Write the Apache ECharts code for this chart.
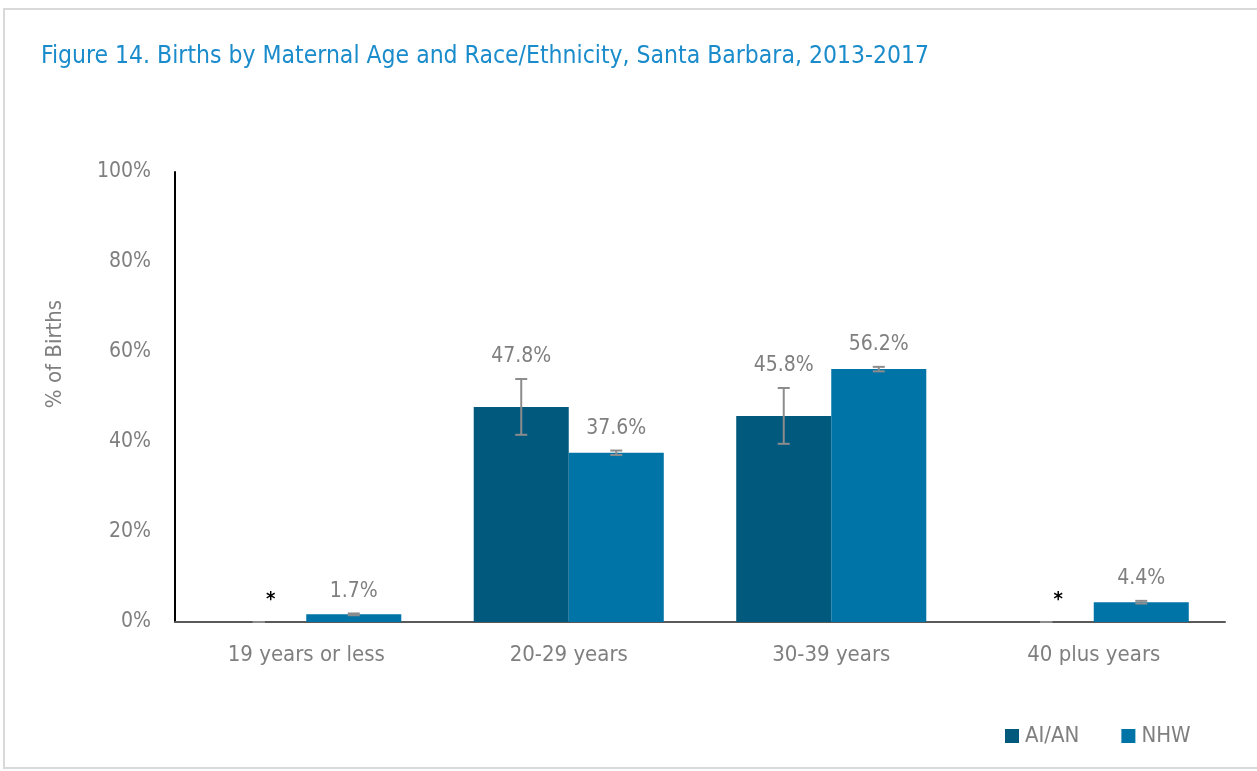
<!DOCTYPE html>
<html>
<head>
<meta charset="utf-8">
<script src="https://cdn.jsdelivr.net/npm/echarts@6/dist/echarts.min.js"></script>
<style>
  html, body { margin: 0; padding: 0; background: #fff; }
  #main { width: 1257px; height: 771px; }
</style>
</head>
<body>
<div id="main"></div>
<script>
var categories = ['19 years or less', '20-29 years', '30-39 years', '40 plus years'];
var aianValues = [0, 47.8, 45.8, 0];
var aianLow = [0, 41.6, 39.6, 0];
var aianHigh = [0, 54.0, 52.0, 0];
var aianLabels = ['*', '47.8%', '45.8%', '*'];
var nhwValues = [1.7, 37.6, 56.2, 4.4];
var nhwLow = [1.5, 37.1, 55.7, 4.1];
var nhwHigh = [1.9, 38.1, 56.7, 4.7];
var nhwLabels = ['1.7%', '37.6%', '56.2%', '4.4%'];
var yTicks = [0, 20, 40, 60, 80, 100];

var FONT = "'Liberation Sans Narrow', 'Arial Narrow', 'DejaVu Sans Condensed', sans-serif";
var GRAY = '#7f7f7f';
var GAP = 0.276;

var myChart = echarts.init(document.getElementById('main'));

// error bar + value label on top, shift = -1 for left bar, +1 for right bar
function errRender(shift) {
  return function (params, api) {
    var i = api.value(0);
    var hi = api.coord([i, api.value(2)]);
    var lo = api.coord([i, api.value(1)]);
    var band = api.size([1, 0])[0];
    var x = hi[0] + shift * band * (1 - GAP) / 4;
    var cap = 6;
    var style = { stroke: '#8c8c8c', lineWidth: 2 };
    var txt = api.value(3);
    var isStar = txt === '*';
    return {
      type: 'group',
      children: [
        { type: 'line', shape: { x1: x, y1: hi[1], x2: x, y2: lo[1] }, style: style },
        { type: 'line', shape: { x1: x - cap, y1: hi[1], x2: x + cap, y2: hi[1] }, style: style },
        { type: 'line', shape: { x1: x - cap, y1: lo[1], x2: x + cap, y2: lo[1] }, style: style },
        {
          type: 'text',
          x: isStar ? x + 12 : x,
          y: hi[1] - 22,
          style: {
            text: txt,
            fill: isStar ? '#000' : GRAY,
            font: (isStar ? 'bold 20px ' : '21px ') + FONT,
            align: 'center',
            verticalAlign: 'middle'
          }
        }
      ]
    };
  };
}

function errData(low, high, labels) {
  return categories.map(function (c, i) { return [i, low[i], high[i], labels[i]]; });
}

var option = {
  backgroundColor: '#fff',
  animation: false,
  title: {
    text: 'Figure 14. Births by Maternal Age and Race/Ethnicity, Santa Barbara, 2013-2017',
    left: 36,
    top: 39,
    textStyle: { color: '#1b8ccb', fontSize: 24.5, fontWeight: 'normal', fontFamily: FONT }
  },
  graphic: [{
    type: 'rect',
    shape: { x: 4, y: 9, width: 1270, height: 759 },
    style: { fill: 'none', stroke: '#d9d9d9', lineWidth: 2 },
    silent: true
  }, {
    type: 'text',
    x: 55,
    y: 354,
    rotation: Math.PI / 2,
    style: {
      text: '% of Births',
      fill: GRAY,
      font: '22px ' + FONT,
      align: 'center',
      verticalAlign: 'middle'
    },
    silent: true
  }],
  legend: {
    left: 1000,
    top: 720,
    itemWidth: 14,
    itemHeight: 14,
    itemGap: 42,
    icon: 'rect',
    data: ['AI/AN', 'NHW'],
    itemStyle: { borderWidth: 0 },
    textStyle: { color: GRAY, fontSize: 22, fontFamily: FONT, padding: [0, 0, 0, 1] }
  },
  grid: { left: 175, right: 32, top: 172, bottom: 149 },
  xAxis: {
    type: 'category',
    data: categories,
    axisLine: { lineStyle: { color: '#595959', width: 2 } },
    axisTick: { show: false },
    axisLabel: { color: GRAY, fontSize: 22, fontFamily: FONT, margin: 22 }
  },
  yAxis: {
    type: 'value',
    min: 0,
    max: 100,
    interval: 20,
    axisLine: { show: true, lineStyle: { color: '#000', width: 2 } },
    axisTick: { show: false },
    splitLine: { show: false },
    axisLabel: {
      color: GRAY, fontSize: 21, fontFamily: FONT, margin: 24,
      formatter: function (v) { return yTicks.indexOf(v) >= 0 ? v + '%' : ''; }
    }
  },
  series: [
    {
      name: 'AI/AN',
      type: 'bar',
      data: aianValues,
      barGap: '0%',
      barCategoryGap: (GAP * 100) + '%',
      itemStyle: { color: '#02597e' }
    },
    {
      name: 'NHW',
      type: 'bar',
      data: nhwValues,
      barGap: '0%',
      barCategoryGap: (GAP * 100) + '%',
      itemStyle: { color: '#0073a7' }
    },
    {
      type: 'custom',
      renderItem: errRender(-1),
      data: errData(aianLow, aianHigh, aianLabels),
      z: 5
    },
    {
      type: 'custom',
      renderItem: errRender(1),
      data: errData(nhwLow, nhwHigh, nhwLabels),
      z: 5
    }
  ]
};

myChart.setOption(option);
</script>
</body>
</html>
